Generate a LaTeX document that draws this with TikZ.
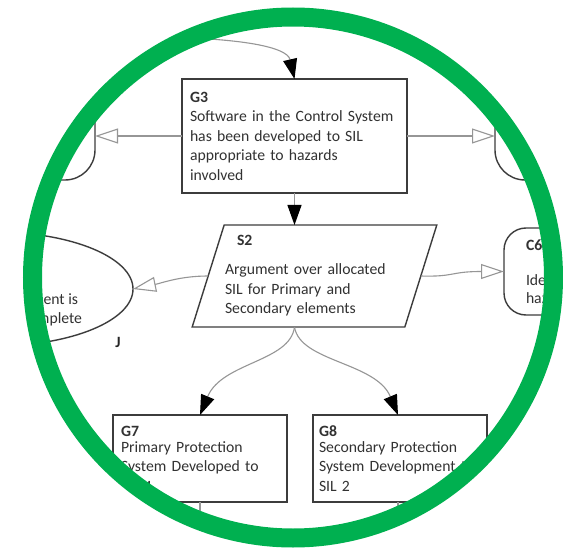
\documentclass[tikz,border=0pt]{standalone}
\usepackage{fontspec}
\setmainfont{Carlito}
\usetikzlibrary{arrows.meta,shapes.geometric,calc}
\definecolor{ringgreen}{RGB}{0,176,80}
\definecolor{boxcol}{RGB}{60,60,60}
\definecolor{concol}{RGB}{150,150,150}
\definecolor{txtcol}{RGB}{50,50,50}
\tikzset{
  every node/.style={outer sep=0pt},
  gsnfont/.style={font=\fontsize{15.7}{19.5}\selectfont, text=txtcol},
  goalbox/.style={gsnfont, draw=boxcol, line width=1.4pt, fill=white, align=left, inner ysep=0pt},
  ctxbox/.style={gsnfont, draw=boxcol, line width=1.4pt, fill=white, align=left, inner ysep=0pt},
  suparrow/.style={draw=concol, line width=1.1pt, -{Triangle[length=20pt,width=14pt,color=black]}},
  ctxarrow/.style={draw=concol, line width=1.1pt, -{Triangle[open,length=23pt,width=15pt]}},
  plainline/.style={draw=concol, line width=1.1pt}
}
\begin{document}
\begin{tikzpicture}[x=1pt,y=-1pt]
\path[use as bounding box, fill=white] (0,0) rectangle (563,551);
\begin{scope}
\clip (293,277.5) circle (251.5);
% context shapes
\node[ctxbox, rounded corners=30pt, minimum width=150pt, minimum height=88pt, anchor=east] (L1) at (95,136) {};
\node[ctxbox, rounded corners=30pt, minimum width=150pt, minimum height=88pt, anchor=west] (R1) at (495,136) {};
\node[ctxbox, ellipse, minimum width=276pt, minimum height=114pt] (J) at (-5,289) {};
\node[gsnfont, anchor=base east, inner sep=0pt] (Jt1) at (78,304) {Argument is};
\node[gsnfont, anchor=base east, inner sep=0pt] (Jt2) at (82,323) {complete};
\node[gsnfont, font=\fontsize{15.7}{19.5}\selectfont\bfseries, text=black!85, inner sep=0pt] (Jlab) at (118,342) {J};
\node[ctxbox, rounded corners=22pt, minimum height=87pt, text width=110pt, inner xsep=22pt, anchor=west] (C6) at (504,271.5)
  {\textbf{C6}\\[15pt]Identified\\[-1.5pt]hazards};
% goals and strategy
\node[goalbox, minimum width=225pt, minimum height=114pt, text width=209pt, inner xsep=8pt] (G3) at (294.5,136)
  {\textbf{G3}\\Software in the Control System\\has been developed to SIL\\appropriate to hazards\\involved};
\node[goalbox, trapezium, trapezium left angle=68.6, trapezium right angle=111.4, trapezium stretches=true,
      minimum width=245pt, minimum height=102pt, text width=179pt, inner xsep=0pt] (S2) at (314.5,276)
  {\hspace*{12pt}\textbf{S2}\\[9.5pt]Argument over allocated\\SIL for Primary and\\Secondary elements};
\node[goalbox, minimum width=174pt, minimum height=87pt, text width=158pt, inner xsep=8pt] (G7) at (200,458.5)
  {\textbf{G7}\\[-3.5pt]Primary Protection\\System Developed to\\SIL 4};
\node[goalbox, minimum width=174pt, minimum height=87pt, text width=162pt, inner xsep=6pt] (G8) at (400,458.5)
  {\textbf{G8}\\[-3.5pt]Secondary Protection\\System Development to\\SIL 2};
% connectors
\coordinate (topin) at (140,37);
\coordinate (s2out) at (G3.south |- S2.south);
\coordinate (g7end) at (200,560);
\coordinate (g8end) at (398,560);
\draw[suparrow] (topin) .. controls (235,37) and (287,46) .. (G3.north);
\draw[suparrow] (G3.south) -- (G3.south |- S2.north);
\draw[ctxarrow] (G3.west) -- (L1.east);
\draw[ctxarrow] (G3.east) -- (R1.west);
\draw[ctxarrow] (S2.left side) .. controls (180,276) and (162,283) .. (J.east);
\draw[ctxarrow] (S2.right side) .. controls (455,277) and (450,271.5) .. (C6.west);
\draw[suparrow] (s2out) .. controls (290,362) and (222,362) .. (G7.north);
\draw[suparrow] (s2out) .. controls (300,362) and (376,362) .. ([xshift=-2pt]G8.north);
\draw[plainline] (G7.south) -- (g7end);
\draw[plainline] ([xshift=-2pt]G8.south) -- (g8end);
\end{scope}
\draw[ringgreen, line width=19pt] (293,277.5) circle (260.5);
\end{tikzpicture}
\end{document}
